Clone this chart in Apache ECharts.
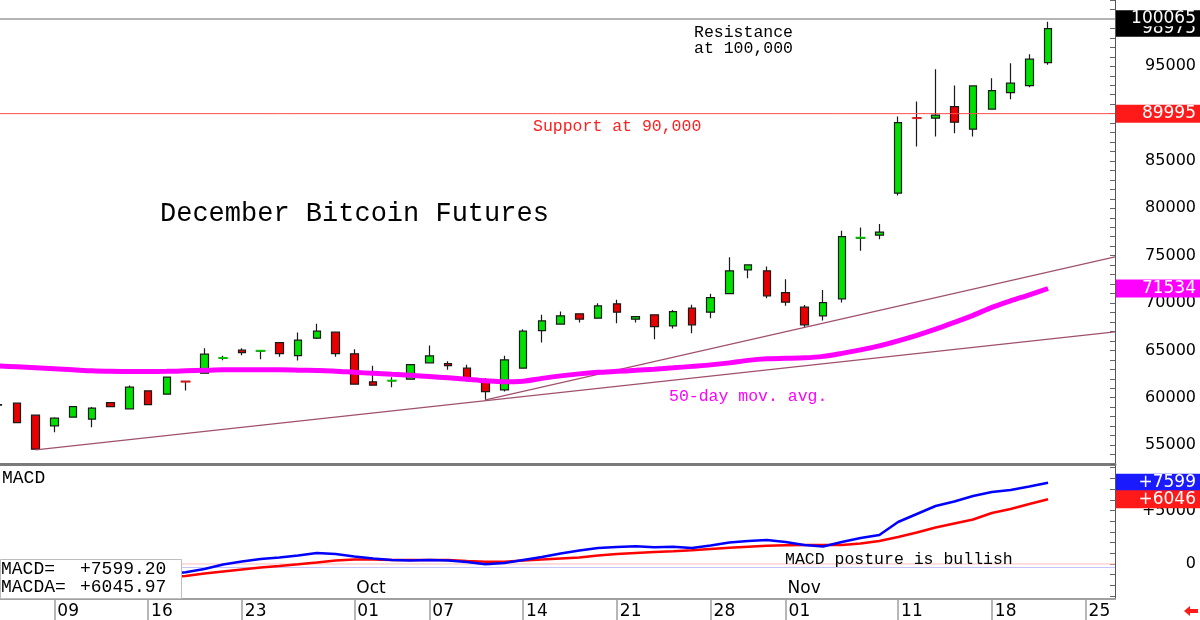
<!DOCTYPE html>
<html><head><meta charset="utf-8">
<script src="https://cdn.jsdelivr.net/npm/echarts@6/dist/echarts.min.js"></script>
<style>html,body{margin:0;padding:0;background:#fff}#c{width:1200px;height:620px}</style>
</head><body><div id="c"></div>
<script>
// ---- data (trading-day index 0 = Sep 4) ----
const tickIdx = [3, 8, 13, 19, 23, 28, 33, 38, 42, 48, 53, 58];
const tickLbl = ['09', '16', '23', '01', '07', '14', '21', '28', '01', '11', '18', '25'];
const monthIdx = [19, 42];
const monthLbl = ['Oct', 'Nov'];

const openP  = [59220,59424,58157,57027,57946,57735,59488,58822,60723,60375,61730,62592,64150,65021,64930,65824,64451,66288,66922,64630,61674,61780,61959,63680,63606,63120,61642,60829,63120,67091,67767,68854,68400,69910,68295,68749,67587,69456,69034,70998,73501,73395,71104,69562,68643,70438,76850,77165,81600,89560,89520,90745,88359,90471,92224,92963,95392];
const closeP = [59260,57376,54567,57840,59065,58896,59065,61114,59277,62170,61700,64599,64200,64768,64960,64662,66077,67028,64662,61431,61325,61810,63500,64419,63395,61959,60649,63997,67028,68115,68643,68295,69699,69034,68570,67513,69097,67693,70576,73395,74029,70755,70090,67693,70048,77017,76900,77482,89056,89530,89837,89098,92931,92435,93216,95751,98975];
const lowP   = [59000,57300,54500,56360,57900,56890,59000,58800,59200,60300,60750,62550,63960,64493,64070,64314,63923,66200,64314,61400,61300,61114,61950,63650,62941,61705,59773,60649,63100,65824,67700,67936,68350,67872,67936,66183,67302,66816,68400,70950,72624,70512,69699,67450,68147,70048,75507,76743,81347,86521,87577,87936,87577,90400,91527,92794,95149];
const highP  = [59450,59500,58200,57950,59100,59030,59520,61283,60750,62250,61740,65232,64420,65232,64970,65850,66880,67798,66950,65127,63363,62170,63520,65507,63860,63469,62064,64419,67239,68749,69097,68900,69984,70333,68600,68800,69276,69805,70966,74842,74050,73849,72519,69800,71388,77619,77968,78358,89690,91273,94695,92963,93000,93744,95328,96279,99700];

const ma50 = [63363,63258,63152,63046,62941,62835,62782,62761,62761,62782,62835,62888,62941,62941,62941,62941,62909,62867,62804,62677,62571,62466,62360,62233,62096,61938,61779,61674,61748,62043,62307,62518,62677,62782,62888,63015,63152,63310,63469,63680,63944,64102,64155,64208,64366,64683,65053,65475,66003,66584,67239,67957,68696,69541,70227,70861,71534];

const macd  = [-1900,-2000,-2100,-2050,-1900,-1700,-1500,-1300,-1150,-950,-776,-467,-47,234,467,607,794,1028,935,701,514,374,327,374,327,187,-28,93,374,654,981,1262,1495,1589,1654,1561,1617,1495,1729,2009,2150,2243,2056,1776,1636,2056,2430,2710,3925,4673,5421,5841,6355,6729,6916,7243,7599];
const macdA = [-1800,-1850,-1900,-1900,-1850,-1750,-1650,-1500,-1400,-1250,-1121,-888,-701,-514,-327,-187,-28,140,327,421,421,374,374,374,374,280,215,215,327,421,514,607,794,935,1028,1122,1187,1280,1402,1523,1617,1701,1748,1776,1776,1776,1916,2150,2523,2944,3411,3785,4159,4766,5140,5608,6046];

const trend1 = [[2, 54500], [59.57, 66950]];
const trend2 = [[26, 59773], [59.57, 74874]];
const resistance = 100000;
const support = 90000;
const macdRefLines = [0, -330];

const priceTags = [
  {v: 98975, text: '98975', bg: '#000000', axis: 0},
  {v: 100065, text: '100065', bg: '#000000', axis: 0},
  {v: 89995, text: '89995', bg: '#ff1a1a', axis: 0},
  {v: 71534, text: '71534', bg: '#ff00ff', axis: 0},
  {v: 7599, text: '+7599', bg: '#1a1aff', axis: 1},
  {v: 6046, text: '+6046', bg: '#ff1a1a', axis: 1}
];
const macdReadout = [['MACD=', '+7599.20'], ['MACDA=', '+6045.97']];

// ---- build ----
const X_MIN = 0.1, X_MAX = 59.57;
const candles = openP.map((o, i) => [i, o, closeP[i], lowP[i], highP[i]]);
const dojis = [];
openP.forEach((o, i) => {
  if (Math.abs(o - closeP[i]) < 120) {
    dojis.push({value: [i, closeP[i]], itemStyle: {color: closeP[i] >= o ? '#00e000' : '#ff1a1a'}});
  }
});
const hLine = v => [[X_MIN, v], [X_MAX, v]];
const mono = "'Liberation Mono', 'DejaVu Sans Mono', monospace";
const sans = "'DejaVu Sans', sans-serif";
const macdTicks = [];
for (let v = -3000; v <= 9000; v += 1000) macdTicks.push(v);

function flat(data, color, width, xi) {
  return {type: 'line', xAxisIndex: xi, yAxisIndex: xi, data, symbol: 'none', silent: true,
          lineStyle: {color, width, type: 'solid'}};
}

const option = {
  animation: false,
  backgroundColor: '#ffffff',
  grid: [
    {left: 0, top: 0, width: 1115, height: 464},
    {left: 0, top: 465, width: 1115, height: 134}
  ],
  xAxis: [
    {type: 'value', gridIndex: 0, min: X_MIN, max: X_MAX,
     axisLine: {show: true, onZero: false, lineStyle: {color: '#7a7a7a', width: 3}},
     axisTick: {show: false}, axisLabel: {show: false}, splitLine: {show: false}},
    {type: 'value', gridIndex: 1, min: X_MIN, max: X_MAX,
     axisLine: {show: true, onZero: false, lineStyle: {color: '#a0a0a0', width: 2}},
     axisTick: {show: true, customValues: tickIdx, length: 21, lineStyle: {color: '#a0a0a0', width: 1.5}},
     axisLabel: {show: true, customValues: tickIdx, formatter: v => tickLbl[tickIdx.indexOf(v)] || '',
       align: 'left', margin: 4, padding: [0, 0, 0, 3], fontSize: 17, fontFamily: sans, color: '#000'},
     splitLine: {show: false}}
  ],
  yAxis: [
    {type: 'value', gridIndex: 0, position: 'right', min: 53000, max: 102000, interval: 1000,
     axisLine: {show: true, lineStyle: {color: '#555', width: 1}},
     axisTick: {show: true, inside: true, length: 5, lineStyle: {color: '#666'}},
     axisLabel: {formatter: v => (v % 5000 === 0 ? String(v) : ''), align: 'right', margin: 81,
       fontSize: 16, fontFamily: sans, color: '#000'},
     splitLine: {show: false}},
    {type: 'value', gridIndex: 1, position: 'right', min: -3271, max: 9252,
     axisLine: {show: true, lineStyle: {color: '#555', width: 1}},
     axisTick: {show: true, inside: true, length: 5, customValues: macdTicks, lineStyle: {color: '#666'}},
     axisLabel: {customValues: [0, 5000], formatter: v => (v === 0 ? '0' : '+' + v), align: 'right', margin: 81,
       fontSize: 16, fontFamily: sans, color: '#000'},
     splitLine: {show: false}}
  ],
  series: [
    flat(hLine(resistance), '#b4b4b4', 2, 0),
    flat(hLine(support), '#ff4d4d', 1, 0),
    flat(trend1, '#a0506e', 1.2, 0),
    flat(trend2, '#a0506e', 1.2, 0),
    {type: 'line', xAxisIndex: 0, yAxisIndex: 0, data: ma50.map((v, i) => [i, v]), symbol: 'none',
     smooth: 0.3, lineStyle: {color: '#ff00ff', width: 5}, silent: true},
    {type: 'candlestick', xAxisIndex: 0, yAxisIndex: 0, data: candles,
     dimensions: ['i', 'open', 'close', 'low', 'high'], encode: {x: 0, y: [1, 2, 3, 4]},
     barWidth: 8,
     itemStyle: {color: '#00e000', color0: '#e80000', borderColor: '#1a1a1a', borderColor0: '#1a1a1a',
       borderColorDoji: '#1a1a1a', borderWidth: 1.2}},
    {type: 'scatter', xAxisIndex: 0, yAxisIndex: 0, data: dojis, symbol: 'rect', symbolSize: [10, 2], z: 5, silent: true},
    flat(hLine(macdRefLines[0]), '#ffbcbc', 1, 1),
    flat(hLine(macdRefLines[1]), '#c4c4ff', 1, 1),
    {type: 'line', xAxisIndex: 1, yAxisIndex: 1, data: macdA.map((v, i) => [i, v]), symbol: 'none',
     lineStyle: {color: '#ff0000', width: 2.5}, silent: true},
    {type: 'line', xAxisIndex: 1, yAxisIndex: 1, data: macd.map((v, i) => [i, v]), symbol: 'none',
     lineStyle: {color: '#0000ff', width: 2.5}, silent: true}
  ]
};

const chart = echarts.init(document.getElementById('c'));
chart.setOption(option);

const px = v => chart.convertToPixel({xAxisIndex: 1}, v);
const g = [];
function txt(text, x, y, font, fill, align) {
  g.push({type: 'text', z: 50, style: {text, x, y, font, fill, textAlign: align || 'left', textVerticalAlign: 'middle'}});
}
// annotations
txt('December Bitcoin Futures', 160, 214, '27px ' + mono, '#000');
txt('Resistance', 694, 33, '16.5px ' + mono, '#000');
txt('at 100,000', 694, 49, '16.5px ' + mono, '#000');
txt('Support at 90,000', 533, 127, '16.5px ' + mono, '#ff2020');
txt('50-day mov. avg.', 669, 397, '16.5px ' + mono, '#ff00ff');
txt('MACD', 2, 478, '18px ' + mono, '#000');
txt('MACD posture is bullish', 785, 560, '16.5px ' + mono, '#000');
monthIdx.forEach((m, k) => txt(monthLbl[k], px(m) + 2, 589, '17px ' + sans, '#000'));
// MACD readout box
g.push({type: 'rect', z: 40, shape: {x: 0.5, y: 559.5, width: 181, height: 39}, style: {fill: '#fff', stroke: '#bdbdbd', lineWidth: 1}});
macdReadout.forEach((r, k) => {
  txt(r[0], 1, 569 + k * 18, '18px ' + mono, '#000');
  txt(r[1], 80, 569 + k * 18, '18px ' + mono, '#000');
});
// value tags on the right axis (later tags drawn on top)
priceTags.forEach((t, k) => {
  const y = chart.convertToPixel({yAxisIndex: t.axis}, t.v);
  const h = t.bg === '#000000' ? 16 : 18;
  g.push({type: 'rect', z: 60 + k * 2, shape: {x: 1116, y: y - h / 2, width: 84, height: h}, style: {fill: t.bg}});
  g.push({type: 'text', z: 61 + k * 2, style: {text: t.text, x: 1196, y: y, font: '17px ' + sans, fill: '#fff', textAlign: 'right', textVerticalAlign: 'middle'}});
});
// small red arrow bottom-right
g.push({type: 'polygon', z: 80, shape: {points: [[1184, 611], [1190, 606], [1190, 609], [1198, 609], [1198, 613], [1190, 613], [1190, 616]]}, style: {fill: '#ff1a1a'}});
chart.setOption({graphic: g});
</script>
</body></html>
